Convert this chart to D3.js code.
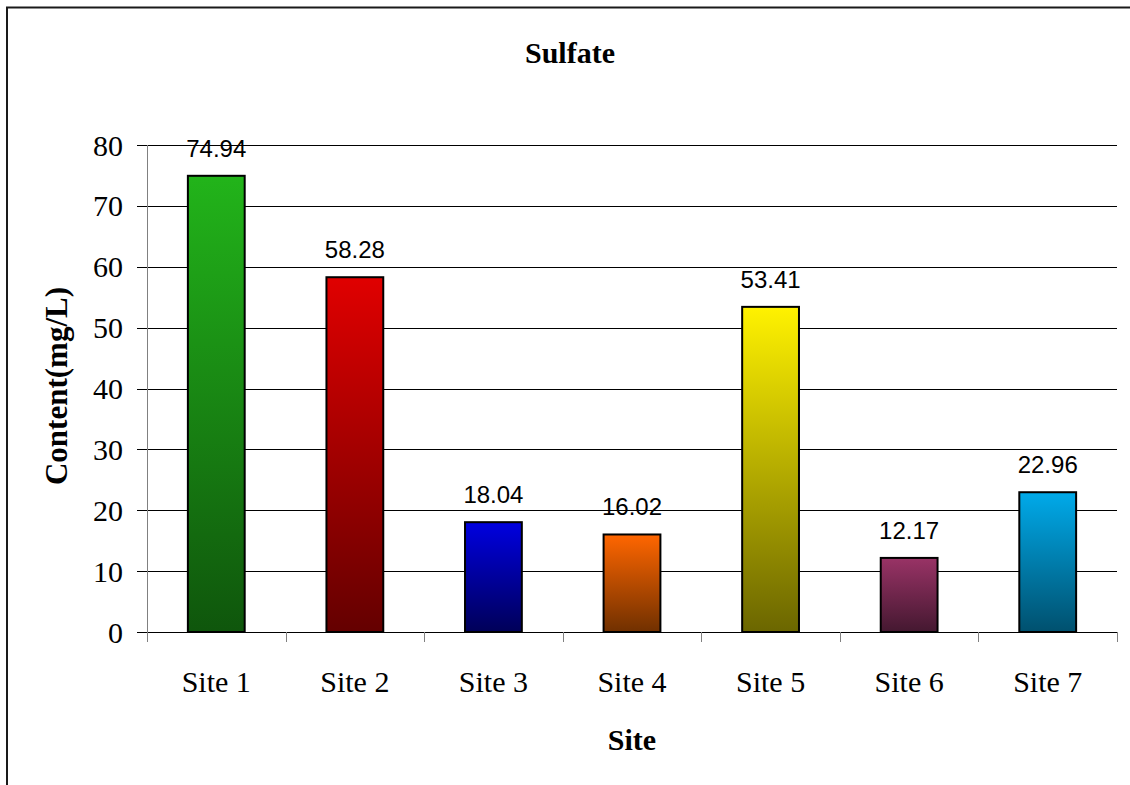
<!DOCTYPE html>
<html>
<head>
<meta charset="utf-8">
<script src="https://cdn.jsdelivr.net/npm/d3@7"></script>
<style>
  body { margin: 0; background: #fff; }
  svg { display: block; }
</style>
</head>
<body>
<div id="chart"></div>
<script>
const sites = ["Site 1", "Site 2", "Site 3", "Site 4", "Site 5", "Site 6", "Site 7"];
const sulfate = [74.94, 58.28, 18.04, 16.02, 53.41, 12.17, 22.96];
const yTicks = [0, 10, 20, 30, 40, 50, 60, 70, 80];

// top / bottom colour of each bar's gradient
const topColors = ["#22b41a", "#e00000", "#0000e0", "#ff6600", "#fff200", "#993366", "#00aaea"];
const bottomColors = ["#0f560c", "#640000", "#000058", "#703000", "#6b6600", "#441830", "#00506e"];

const width = 1130, height = 785;
const margin = {top: 145, right: 13, bottom: 153, left: 147};
const plotW = width - margin.left - margin.right,
      plotH = height - margin.top - margin.bottom;

const serif = "'Liberation Serif', 'Times New Roman', serif";

const svg = d3.select("#chart").append("svg")
    .attr("width", width)
    .attr("height", height);

// outer chart border (cropped at right / bottom)
svg.append("path")
    .attr("d", `M7,${height} V7.5 H${width}`)
    .attr("fill", "none")
    .attr("stroke", "#1a1a1a")
    .attr("stroke-width", 2);

const x = d3.scaleBand()
    .domain(sites)
    .range([0, plotW])
    .paddingInner(0.59)
    .paddingOuter(0.295);

const xCat = d3.scaleBand().domain(sites).range([0, plotW]);

const y = d3.scaleLinear()
    .domain([0, 80])
    .range([plotH, 0]);

const defs = svg.append("defs");
sites.forEach((s, i) => {
    const grad = defs.append("linearGradient")
        .attr("id", "grad" + i)
        .attr("x1", 0).attr("y1", 0).attr("x2", 0).attr("y2", 1);
    grad.append("stop").attr("offset", "0%").attr("stop-color", topColors[i]);
    grad.append("stop").attr("offset", "100%").attr("stop-color", bottomColors[i]);
});

const g = svg.append("g")
    .attr("transform", `translate(${margin.left},${margin.top})`);

// gridlines + y ticks
g.append("g")
    .selectAll("line")
    .data(yTicks)
    .enter().append("line")
    .attr("x1", -10)
    .attr("x2", plotW)
    .attr("y1", d => Math.round(y(d)) + 0.5)
    .attr("y2", d => Math.round(y(d)) + 0.5)
    .attr("stroke", "#000")
    .attr("stroke-width", 1);

// y axis line
g.append("line")
    .attr("x1", 0.5).attr("x2", 0.5)
    .attr("y1", 0).attr("y2", plotH)
    .attr("stroke", "#808080")
    .attr("stroke-width", 1);

// category ticks
g.append("g")
    .selectAll("line")
    .data(sites.concat(["end"]))
    .enter().append("line")
    .attr("x1", (d, i) => Math.round(i < sites.length ? xCat(d) : plotW) + 0.5)
    .attr("x2", (d, i) => Math.round(i < sites.length ? xCat(d) : plotW) + 0.5)
    .attr("y1", plotH)
    .attr("y2", plotH + 10)
    .attr("stroke", "#808080")
    .attr("stroke-width", 1);

// y tick labels
g.append("g")
    .selectAll("text")
    .data(yTicks)
    .enter().append("text")
    .attr("x", -24)
    .attr("y", d => y(d))
    .attr("dy", "0.35em")
    .attr("text-anchor", "end")
    .style("font-family", serif)
    .style("font-size", "30px")
    .text(d => d);

// category labels
g.append("g")
    .selectAll("text")
    .data(sites)
    .enter().append("text")
    .attr("x", d => xCat(d) + xCat.bandwidth() / 2)
    .attr("y", plotH + 60)
    .attr("text-anchor", "middle")
    .style("font-family", serif)
    .style("font-size", "30px")
    .text(d => d);

// bars
g.append("g")
    .selectAll("rect")
    .data(sulfate)
    .enter().append("rect")
    .attr("x", (d, i) => x(sites[i]))
    .attr("y", d => y(d))
    .attr("width", x.bandwidth())
    .attr("height", d => plotH - y(d))
    .attr("fill", (d, i) => `url(#grad${i})`)
    .attr("stroke", "#000")
    .attr("stroke-width", 2);

// value labels
g.append("g")
    .selectAll("text")
    .data(sulfate)
    .enter().append("text")
    .attr("x", (d, i) => x(sites[i]) + x.bandwidth() / 2)
    .attr("y", d => y(d) - 19)
    .attr("text-anchor", "middle")
    .style("font-family", "'Liberation Sans', Arial, sans-serif")
    .style("font-size", "24px")
    .text(d => d.toFixed(2));

// title
svg.append("text")
    .attr("x", 570)
    .attr("y", 63)
    .attr("text-anchor", "middle")
    .style("font-family", serif)
    .style("font-weight", "bold")
    .style("font-size", "30px")
    .text("Sulfate");

// x axis title
svg.append("text")
    .attr("x", margin.left + plotW / 2)
    .attr("y", 750)
    .attr("text-anchor", "middle")
    .style("font-family", serif)
    .style("font-weight", "bold")
    .style("font-size", "30px")
    .text("Site");

// y axis title
svg.append("text")
    .attr("transform", `translate(67,386) rotate(-90)`)
    .attr("text-anchor", "middle")
    .style("font-family", serif)
    .style("font-weight", "bold")
    .style("font-size", "31px")
    .text("Content(mg/L)");
</script>
</body>
</html>
